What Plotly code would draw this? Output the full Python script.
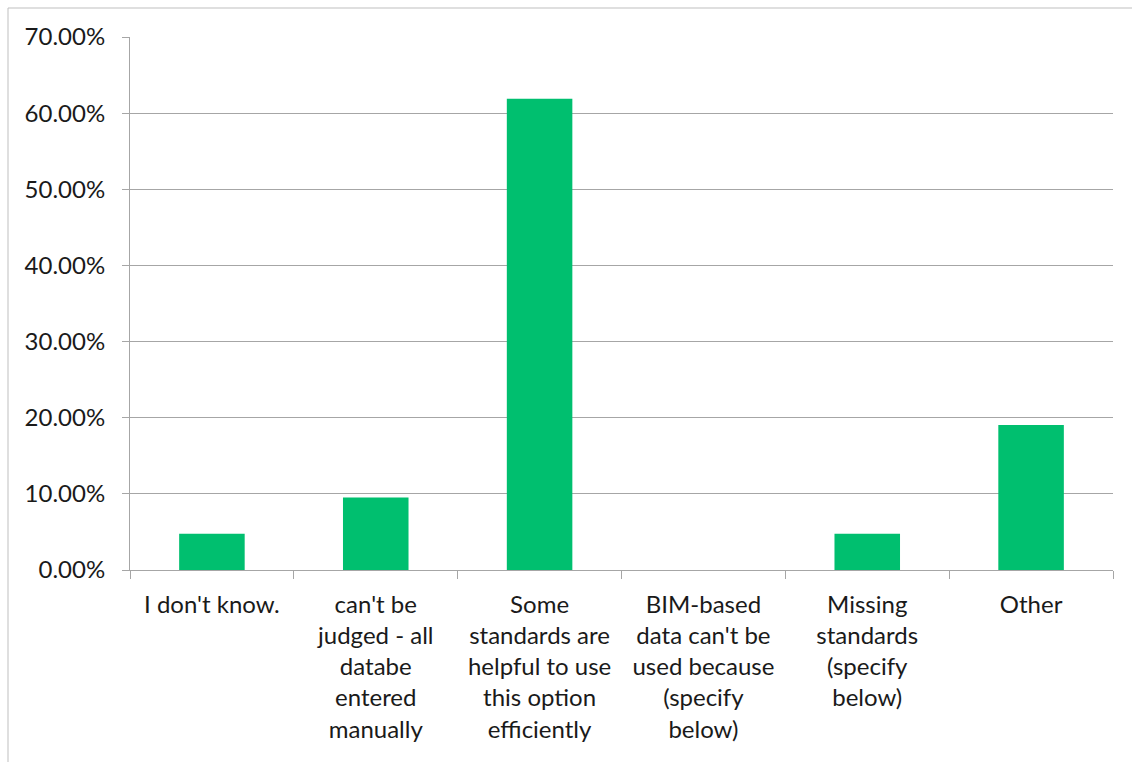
import plotly.graph_objects as go

# Survey answers and share of respondents
categories = [
    "I don't know.",
    "can't be<br>judged - all<br>databe<br>entered<br>manually",
    "Some<br>standards are<br>helpful to use<br>this option<br>efficiently",
    "BIM-based<br>data can't be<br>used because<br>(specify<br>below)",
    "Missing<br>standards<br>(specify<br>below)",
    "Other",
]
shares = [0.0476, 0.0952, 0.6190, 0.0, 0.0476, 0.1905]
y_ticks = [0.0, 0.1, 0.2, 0.3, 0.4, 0.5, 0.6, 0.7]

BAR_COLOR = "#00BF6F"
GRID_COLOR = "#A6A6A6"
TEXT_COLOR = "#1A1A1A"
FONT = "Lato, Carlito, Calibri, sans-serif"

fig = go.Figure(
    go.Bar(
        x=categories,
        y=shares,
        marker=dict(color=BAR_COLOR, line=dict(width=0)),
        width=0.4,
        hoverinfo="x+y",
    )
)

fig.update_layout(
    width=1132,
    height=762,
    margin=dict(l=130, r=19, t=37, b=192),
    paper_bgcolor="white",
    plot_bgcolor="white",
    showlegend=False,
    font=dict(family=FONT, size=24, color=TEXT_COLOR),
    bargap=0.6,
)

fig.update_yaxes(
    range=[0, 0.7],
    tickvals=y_ticks,
    tickformat=".2%",
    showgrid=True,
    gridcolor=GRID_COLOR,
    gridwidth=1,
    showline=True,
    linecolor=GRID_COLOR,
    linewidth=1,
    ticks="outside",
    ticklen=7,
    tickcolor=GRID_COLOR,
    ticklabelstandoff=12,
    zeroline=False,
    fixedrange=True,
)

fig.update_xaxes(
    type="category",
    showgrid=False,
    showline=True,
    linecolor=GRID_COLOR,
    linewidth=1,
    ticks="outside",
    tickson="boundaries",
    ticklen=8,
    tickcolor=GRID_COLOR,
    tickangle=0,
    ticklabelstandoff=13,
    fixedrange=True,
)

# Chart-area outline (only its top and left edges fall inside the page)
fig.add_shape(
    type="rect",
    xref="paper",
    yref="paper",
    x0=(8 - 130) / 983,
    x1=1.1,
    y0=-0.6,
    y1=(570 - 8) / 533,
    line=dict(color="#BFBFBF", width=1),
    layer="below",
)

fig.write_html("out.html")
